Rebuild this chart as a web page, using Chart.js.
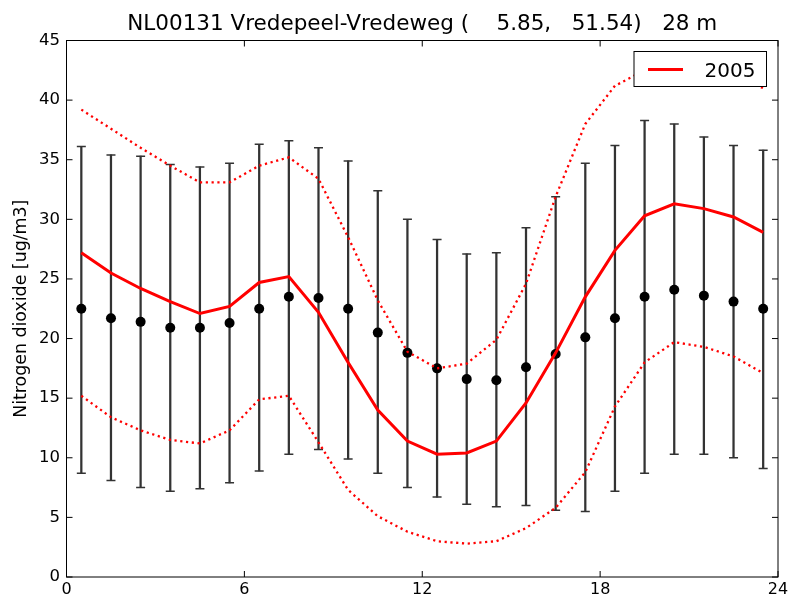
<!DOCTYPE html>
<html>
<head>
<meta charset="utf-8">
<script src="https://cdn.jsdelivr.net/npm/chart.js@4.4.1/dist/chart.umd.min.js"></script>
<style>
  html, body { margin: 0; padding: 0; background: #fff; }
</style>
</head>
<body>
<canvas id="ch" width="788" height="596"></canvas>
<script>
const titleText = 'NL00131 Vredepeel-Vredeweg (    5.85,   51.54)   28 m';
const yLabel = 'Nitrogen dioxide [ug/m3]';
const seriesLabel = '2005';

const hours = [0.5, 1.5, 2.5, 3.5, 4.5, 5.5, 6.5, 7.5, 8.5, 9.5, 10.5, 11.5,
               12.5, 13.5, 14.5, 15.5, 16.5, 17.5, 18.5, 19.5, 20.5, 21.5, 22.5, 23.5];
const xTicks = [0, 6, 12, 18, 24];
const yTicks = [0, 5, 10, 15, 20, 25, 30, 35, 40, 45];

// black dots + error bars
const meanAll = [22.5, 21.7, 21.4, 20.9, 20.9, 21.3, 22.5, 23.5, 23.4, 22.5, 20.5, 18.8,
                 17.5, 16.6, 16.5, 17.6, 18.7, 20.1, 21.7, 23.5, 24.1, 23.6, 23.1, 22.5];
const errHigh = [36.1, 35.4, 35.3, 34.6, 34.4, 34.7, 36.3, 36.6, 36.0, 34.9, 32.4, 30.0,
                 28.3, 27.1, 27.2, 29.3, 31.9, 34.7, 36.2, 38.3, 38.0, 36.9, 36.2, 35.8];
const errLow  = [8.7, 8.1, 7.5, 7.2, 7.4, 7.9, 8.9, 10.3, 10.7, 9.9, 8.7, 7.5,
                 6.7, 6.1, 5.9, 6.0, 5.6, 5.5, 7.2, 8.7, 10.3, 10.3, 10.0, 9.1];

// red lines (2005)
const mean2005 = [27.2, 25.5, 24.2, 23.1, 22.1, 22.7, 24.7, 25.2, 22.2, 18.0, 14.0, 11.4,
                  10.3, 10.4, 11.4, 14.6, 18.8, 23.5, 27.4, 30.3, 31.3, 30.9, 30.2, 28.9];
const upper2005 = [39.2, 37.6, 36.0, 34.5, 33.1, 33.1, 34.5, 35.2, 33.4, 28.5, 23.2, 18.9,
                   17.5, 17.9, 19.9, 24.6, 31.9, 38.0, 41.2, 42.5, 43.0, 42.8, 42.2, 41.0];
const lower2005 = [15.2, 13.4, 12.3, 11.5, 11.2, 12.3, 14.9, 15.2, 11.3, 7.3, 5.1, 3.8,
                   3.0, 2.8, 3.0, 4.1, 5.8, 8.8, 14.3, 18.0, 19.7, 19.3, 18.5, 17.1];

const pts = arr => hours.map((h, i) => ({ x: h, y: arr[i] }));
const FONT = 'DejaVu Sans';

// frame, inward ticks and the legend box, like matplotlib
const decor = {
  id: 'decor',
  afterDatasetsDraw(chart) {
    const { ctx, chartArea: a, scales: { x, y } } = chart;
    ctx.save();
    ctx.strokeStyle = '#000';
    ctx.lineWidth = 1;
    ctx.strokeRect(a.left, a.top, a.right - a.left, a.bottom - a.top);
    ctx.beginPath();
    xTicks.forEach(v => {
      const px = x.getPixelForValue(v);
      ctx.moveTo(px, a.bottom); ctx.lineTo(px, a.bottom - 6);
      ctx.moveTo(px, a.top); ctx.lineTo(px, a.top + 6);
    });
    yTicks.forEach(v => {
      const py = y.getPixelForValue(v);
      ctx.moveTo(a.left, py); ctx.lineTo(a.left + 6, py);
      ctx.moveTo(a.right, py); ctx.lineTo(a.right - 6, py);
    });
    ctx.stroke();

    // legend
    const lx = a.right - 144, ly = a.top + 11, lw = 132.5, lh = 35;
    ctx.fillStyle = '#fff';
    ctx.fillRect(lx, ly, lw, lh);
    ctx.strokeRect(lx, ly, lw, lh);
    ctx.strokeStyle = '#ff0000';
    ctx.lineWidth = 3;
    ctx.beginPath();
    ctx.moveTo(lx + 14, ly + 18); ctx.lineTo(lx + 49, ly + 18);
    ctx.stroke();
    ctx.fillStyle = '#000';
    ctx.font = '20px "' + FONT + '"';
    ctx.textBaseline = 'alphabetic';
    ctx.textAlign = 'left';
    ctx.fillText(seriesLabel, lx + 70.5, ly + 25.5);
    ctx.restore();
  }
};

new Chart(document.getElementById('ch'), {
  type: 'line',
  data: {
    datasets: [
      { type: 'bar', label: 'range', data: hours.map((h, i) => ({ x: h, y: [errLow[i], errHigh[i]] })),
        backgroundColor: '#333', barThickness: 1.6, grouped: false, order: 5 },
      { label: 'caps-hi', data: pts(errHigh), showLine: false, pointStyle: 'line',
        pointRadius: 4.5, borderColor: '#333', borderWidth: 1.5, order: 4 },
      { label: 'caps-lo', data: pts(errLow), showLine: false, pointStyle: 'line',
        pointRadius: 4.5, borderColor: '#333', borderWidth: 1.5, order: 4 },
      { label: 'mean', data: pts(meanAll), showLine: false, pointRadius: 5,
        backgroundColor: '#000', borderWidth: 0, order: 3 },
      { label: 'upper', data: pts(upper2005), borderColor: '#ff0000', borderWidth: 2.3,
        borderDash: [2.2, 3.6], pointRadius: 0, tension: 0, order: 2 },
      { label: 'lower', data: pts(lower2005), borderColor: '#ff0000', borderWidth: 2.3,
        borderDash: [2.2, 3.6], pointRadius: 0, tension: 0, order: 2 },
      { label: seriesLabel, data: pts(mean2005), borderColor: '#ff0000', borderWidth: 3,
        pointRadius: 0, tension: 0, order: 1 },
    ],
  },
  options: {
    responsive: false,
    animation: false,
    layout: { padding: { top: 0, right: 10, bottom: 0, left: 0 } },
    plugins: {
      legend: { display: false },
      tooltip: { enabled: false },
      title: {
        display: true, text: titleText, fullSize: false, color: '#000',
        font: { family: FONT, size: 21.5, weight: 'normal' },
        padding: { top: 12, bottom: 2.7 },
      },
    },
    scales: {
      x: {
        type: 'linear', min: 0, max: 24, offset: false,
        grid: { display: false, drawTicks: false },
        border: { display: false },
        afterBuildTicks: s => { s.ticks = xTicks.map(v => ({ value: v })); },
        afterFit: s => { s.height = 19; s.paddingLeft = 0; s.paddingRight = 0; },
        ticks: { color: '#000', padding: 3, maxRotation: 0, autoSkip: false,
                 font: { family: FONT, size: 16 } },
      },
      y: {
        min: 0, max: 45,
        grid: { display: false, drawTicks: false },
        border: { display: false },
        afterBuildTicks: s => { s.ticks = yTicks.map(v => ({ value: v })); },
        afterFit: s => { s.width = 66.5; s.paddingTop = 0; s.paddingBottom = 0; },
        ticks: { color: '#000', padding: 6.5, font: { family: FONT, size: 16.5 } },
        title: { display: true, text: yLabel, color: '#000', padding: { top: 11, bottom: 0 },
                 font: { family: FONT, size: 17.4 } },
      },
    },
  },
  plugins: [decor],
});
</script>
</body>
</html>
